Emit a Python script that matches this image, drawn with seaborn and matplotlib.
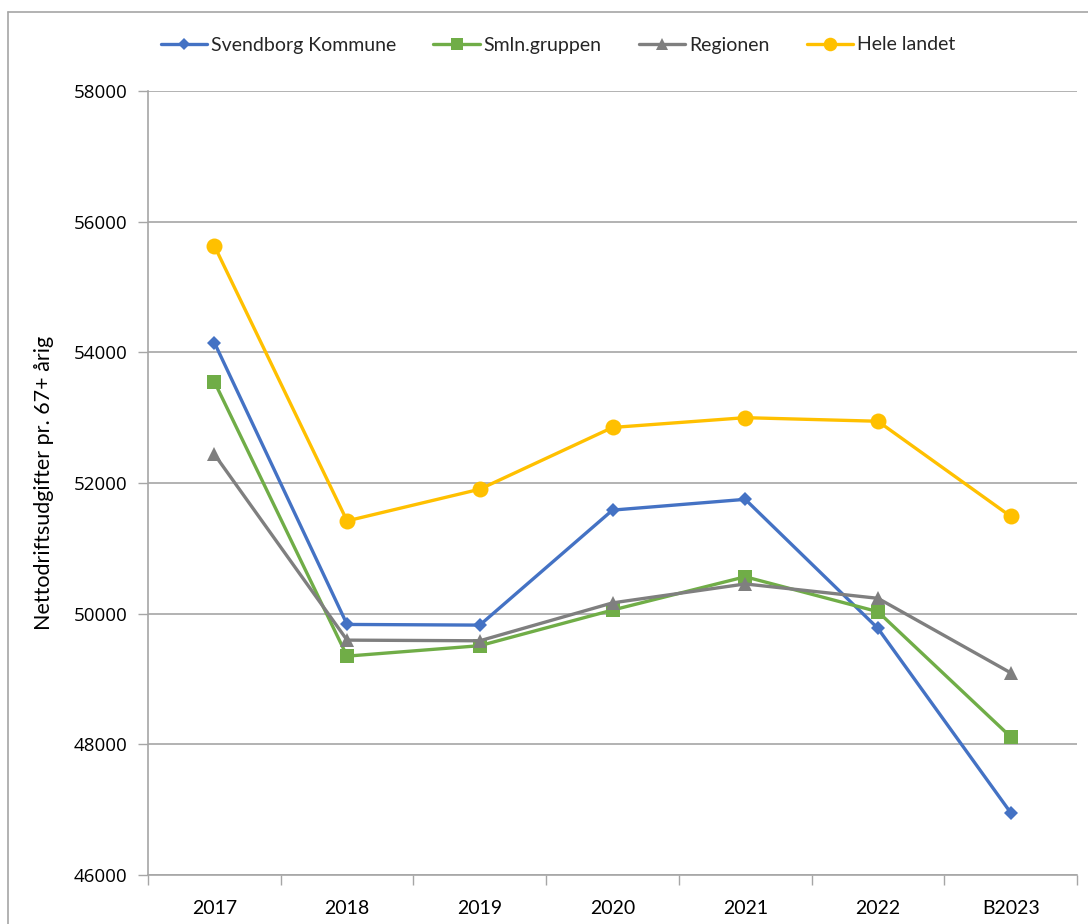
import matplotlib
matplotlib.use("Agg")
import matplotlib.pyplot as plt
import seaborn as sns
import pandas as pd
from matplotlib.lines import Line2D

categories = ["2017", "2018", "2019", "2020", "2021", "2022", "B2023"]
svendborg = [54150, 49835, 49825, 51585, 51750, 49775, 46955]
smln = [53550, 49350, 49510, 50055, 50565, 50030, 48115]
regionen = [52440, 49595, 49585, 50165, 50455, 50235, 49095]
hele = [55630, 51420, 51905, 52850, 53000, 52945, 51490]

series_names = ["Svendborg Kommune", "Smln.gruppen", "Regionen", "Hele landet"]
series_vals = [svendborg, smln, regionen, hele]
colors = ["#4472C4", "#70AD47", "#7F7F7F", "#FFC000"]
markers = ["D", "s", "^", "o"]
msizes = [7.5, 10.5, 10, 11.5]

sns.set_theme(style="white")
plt.rcParams["font.family"] = ["Lato", "DejaVu Sans"]

rows = []
for name, vals in zip(series_names, series_vals):
    for i, (c, v) in enumerate(zip(categories, vals)):
        rows.append({"pos": i, "cat": c, "series": name, "value": v})
df = pd.DataFrame(rows)

fig = plt.figure(figsize=(10.88, 9.24), dpi=100)
ax = fig.add_axes([148/1088, 1-875/924, (1077-148)/1088, (875-91)/924])

for name, col, mk, ms in zip(series_names, colors, markers, msizes):
    sub = df[df["series"] == name]
    sns.lineplot(data=sub, x="pos", y="value", ax=ax, color=col, marker=mk,
                 markersize=ms, markeredgewidth=0, linewidth=2.4, label=name,
                 legend=False, zorder=3)

ax.set_xlim(-0.5, len(categories) - 0.5)
ax.set_ylim(46000, 58000)
ax.set_yticks(range(46000, 58001, 2000))
ax.set_yticklabels([str(v) for v in range(46000, 58001, 2000)],
                   fontsize=13.5, family=["Open Sans", "DejaVu Sans"], color="#000000")
ax.set_xticks(range(len(categories)))
ax.set_xticklabels(categories, fontsize=14, color="#000000")
ax.set_xticks([i - 0.5 for i in range(len(categories) + 1)], minor=True)
ax.tick_params(axis="x", which="major", length=0, pad=18)
ax.tick_params(axis="x", which="minor", length=7, width=1, color="#A6A6A6", direction="out")
ax.tick_params(axis="y", which="major", length=7, width=1, color="#A6A6A6", direction="out", pad=8)
ax.tick_params(axis="x", bottom=True, which="minor")
ax.tick_params(axis="y", left=True)

ax.grid(axis="y", color="#A6A6A6", linewidth=1.2)
ax.set_axisbelow(True)
for s in ["top", "right"]:
    ax.spines[s].set_visible(False)
for s in ["left", "bottom"]:
    ax.spines[s].set_color("#A6A6A6")
    ax.spines[s].set_linewidth(1.2)

ax.set_xlabel("")
ax.set_ylabel("Nettodriftsudgifter pr. 67+ årig", fontsize=15.5, color="#000000", labelpad=14)

handles = [Line2D([0], [0], color=c, marker=m, markersize=ms*0.85, markeredgewidth=0, linewidth=2.4)
           for c, m, ms in zip(colors, markers, msizes)]
fig.legend(handles, series_names, loc="center", bbox_to_anchor=(558/1088, 1-45/924), ncol=4,
           frameon=False, fontsize=14, handlelength=2.4, columnspacing=1.9, handletextpad=0.2)

# outer chart border
fig.add_artist(Line2D([8/1088, 8/1088], [0, 1-12/924], transform=fig.transFigure, color="#A6A6A6", linewidth=1.2))
fig.add_artist(Line2D([8/1088, 1], [1-12/924, 1-12/924], transform=fig.transFigure, color="#A6A6A6", linewidth=1.2))

fig.savefig("out.png", dpi=100)
